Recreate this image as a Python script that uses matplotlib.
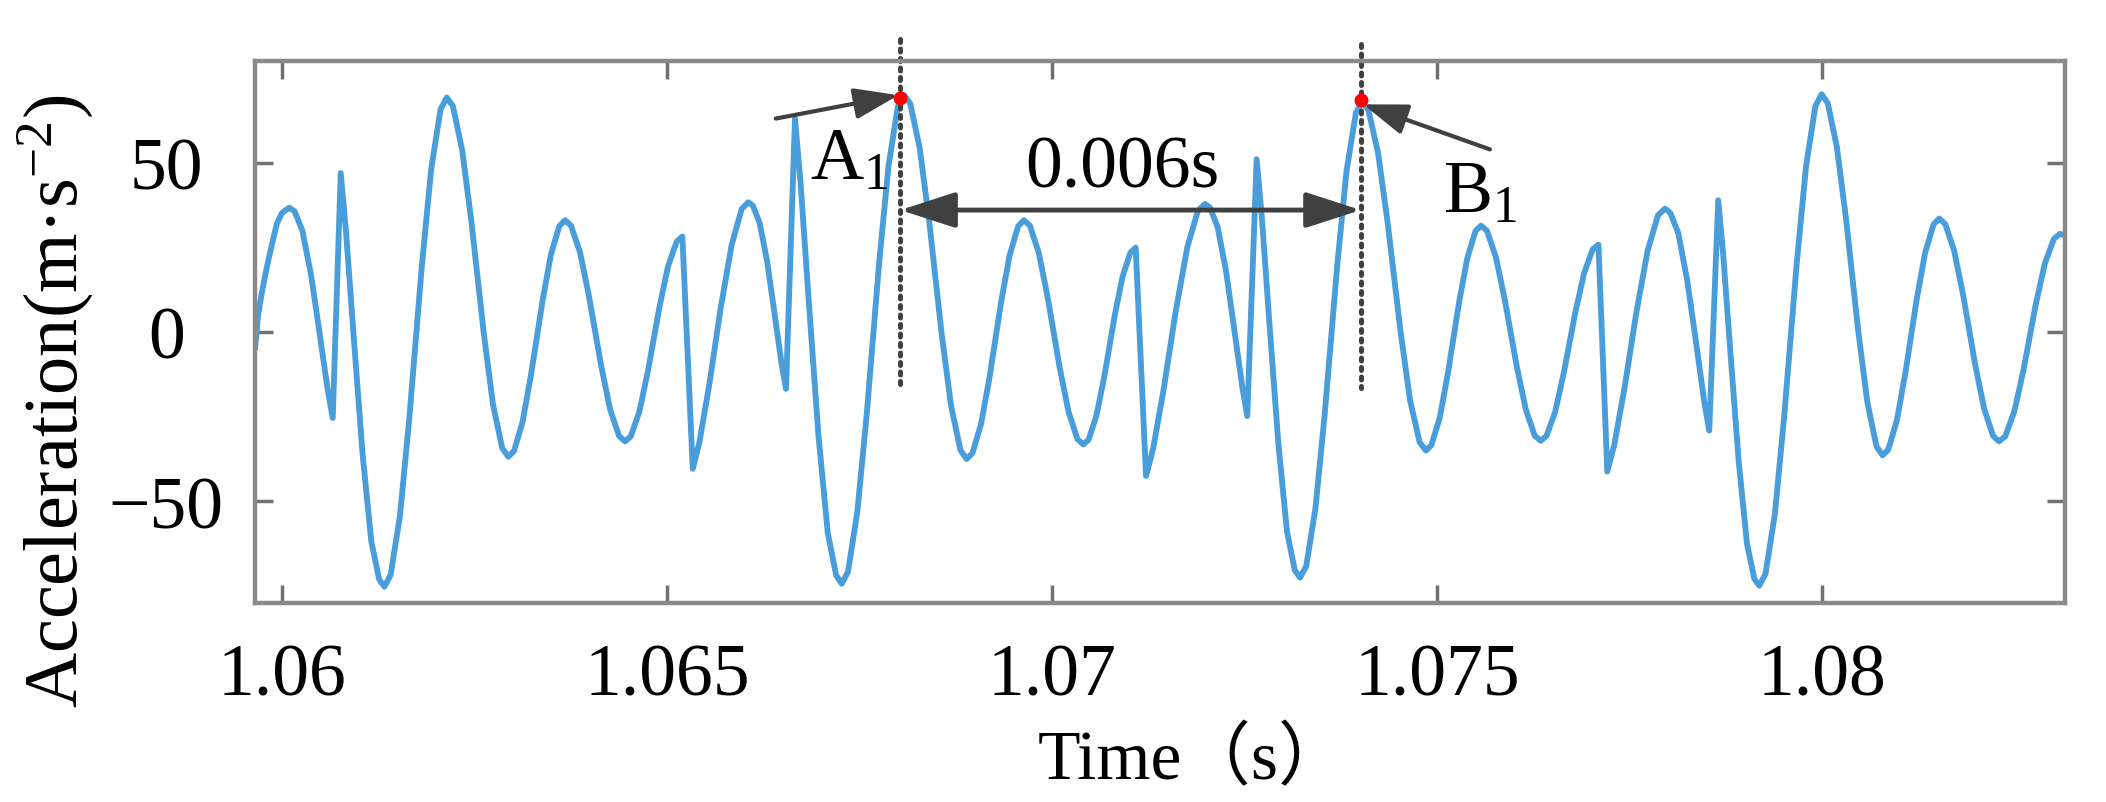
import matplotlib
matplotlib.use("Agg")
import matplotlib.pyplot as plt

plt.rcParams["font.family"] = ["Liberation Serif", "Noto Sans CJK SC"]
plt.rcParams["mathtext.fontset"] = "custom"
plt.rcParams["mathtext.rm"] = "Liberation Serif"
plt.rcParams["mathtext.it"] = "Liberation Serif"
plt.rcParams["mathtext.default"] = "regular"

# acceleration signal (time in s, acceleration in m/s^2)
time_s = [
    1.059649, 1.059688, 1.059740, 1.059801, 1.059870, 1.059931, 1.060000, 1.060095,
    1.060163, 1.060264, 1.060377, 1.060489, 1.060590, 1.060658,
    1.060762,
    1.060830, 1.060932, 1.061046, 1.061159, 1.061261, 1.061329,
    1.061410, 1.061532, 1.061653, 1.061815, 1.061937, 1.062058, 1.062139,
    1.062219, 1.062339, 1.062459, 1.062619, 1.062739, 1.062859, 1.062939,
    1.063013, 1.063123, 1.063233, 1.063381, 1.063491, 1.063601, 1.063675,
    1.063753, 1.063870, 1.063987, 1.064143, 1.064260, 1.064377, 1.064455,
    1.064529, 1.064641, 1.064753, 1.064901, 1.065013, 1.065125, 1.065199,
    1.065334,
    1.065421, 1.065551, 1.065695, 1.065839, 1.065969, 1.066056,
    1.066115, 1.066203, 1.066301, 1.066398, 1.066486, 1.066545,
    1.066662,
    1.066735, 1.066844, 1.066966, 1.067087, 1.067196, 1.067269,
    1.067350, 1.067471, 1.067593, 1.067754, 1.067876, 1.067997, 1.068078,
    1.068159, 1.068282, 1.068404, 1.068566, 1.068689, 1.068811, 1.068892,
    1.068966, 1.069078, 1.069190, 1.069338, 1.069450, 1.069562, 1.069636,
    1.069713, 1.069829, 1.069944, 1.070099, 1.070214, 1.070330, 1.070407,
    1.070475, 1.070577, 1.070679, 1.070815, 1.070917, 1.071019, 1.071087,
    1.071221,
    1.071313, 1.071451, 1.071604, 1.071757, 1.071895, 1.071987,
    1.072053, 1.072152, 1.072262, 1.072371, 1.072470, 1.072536,
    1.072658,
    1.072726, 1.072827, 1.072940, 1.073052, 1.073153, 1.073221,
    1.073302, 1.073422, 1.073543, 1.073704, 1.073825, 1.073946, 1.074026,
    1.074109, 1.074234, 1.074358, 1.074525, 1.074649, 1.074774, 1.074857,
    1.074928, 1.075036, 1.075143, 1.075285, 1.075393, 1.075500, 1.075571,
    1.075649, 1.075765, 1.075881, 1.076037, 1.076153, 1.076269, 1.076347,
    1.076422, 1.076535, 1.076647, 1.076797, 1.076910, 1.077022, 1.077097,
    1.077212,
    1.077302, 1.077437, 1.077587, 1.077736, 1.077871, 1.077961,
    1.078030, 1.078134, 1.078249, 1.078364, 1.078467, 1.078536,
    1.078653,
    1.078717, 1.078813, 1.078920, 1.079026, 1.079122, 1.079186,
    1.079267, 1.079389, 1.079510, 1.079672, 1.079794, 1.079915, 1.079996,
    1.080075, 1.080194, 1.080313, 1.080471, 1.080590, 1.080709, 1.080788,
    1.080862, 1.080972, 1.081082, 1.081229, 1.081339, 1.081450, 1.081523,
    1.081601, 1.081718, 1.081835, 1.081990, 1.082107, 1.082224, 1.082302,
    1.082381, 1.082499, 1.082618, 1.082775, 1.082894, 1.083012, 1.083091, 1.083156,
]
accel = [
    -5.0, 5.0, 12.0, 19.0, 26.0, 31.9, 35.2, 36.7,
    35.6, 29.9, 16.8, -0.6, -16.7, -25.4,
    46.9,
    29.8, -1.9, -36.1, -61.8, -73.0, -75.2,
    -71.7, -54.1, -25.4, 19.4, 48.1, 65.7, 69.2,
    66.7, 53.7, 32.6, -0.2, -21.3, -34.3, -36.8,
    -35.1, -26.6, -12.7, 8.9, 22.8, 31.3, 33.0,
    31.4, 23.5, 10.5, -9.8, -22.8, -30.7, -32.3,
    -30.8, -23.5, -11.4, 7.3, 19.4, 26.7, 28.2,
    -40.4,
    -32.5, -15.2, 6.8, 25.7, 36.3, 38.3,
    37.3, 32.2, 20.7, 5.2, -9.1, -16.8,
    63.0,
    43.8, 8.1, -30.4, -59.2, -71.8, -74.3,
    -70.8, -53.2, -24.5, 20.2, 48.9, 66.5, 70.0,
    67.4, 54.3, 32.9, -0.4, -21.8, -34.9, -37.5,
    -35.8, -27.2, -13.2, 8.7, 22.7, 31.3, 33.0,
    31.4, 23.3, 10.2, -10.4, -23.5, -31.6, -33.2,
    -31.8, -24.7, -13.2, 4.9, 16.4, 23.5, 24.9,
    -42.5,
    -34.5, -16.8, 5.7, 25.0, 35.8, 37.8,
    36.7, 30.9, 17.8, 0.2, -16.0, -24.8,
    51.0,
    33.7, 1.6, -33.0, -58.9, -70.3, -72.5,
    -69.1, -52.0, -24.0, 19.5, 47.5, 64.6, 68.0,
    65.5, 53.0, 32.5, 0.5, -20.0, -32.5, -35.0,
    -33.4, -25.3, -12.1, 8.5, 21.7, 29.8, 31.4,
    29.9, 22.1, 9.5, -10.2, -22.8, -30.6, -32.1,
    -30.7, -23.6, -12.1, 5.8, 17.3, 24.4, 25.8,
    -41.2,
    -33.4, -16.4, 5.4, 24.0, 34.5, 36.4,
    35.2, 29.2, 15.4, -2.9, -19.9, -29.1,
    38.9,
    23.0, -6.6, -38.5, -62.4, -72.9, -74.9,
    -71.4, -53.7, -24.8, 20.1, 49.0, 66.7, 70.2,
    67.6, 54.6, 33.4, 0.4, -20.8, -33.8, -36.4,
    -34.7, -26.2, -12.3, 9.4, 23.3, 31.8, 33.5,
    31.9, 23.9, 10.8, -9.6, -22.7, -30.7, -32.3,
    -30.8, -23.4, -11.2, 7.9, 20.1, 27.5, 29.0, 28.5,
]

# marked peaks A1 and B1
peak_t = [1.06803, 1.07401]
peak_a = [69.0, 68.6]
period_label = "0.006s"

x_ticks = [1.06, 1.065, 1.07, 1.075, 1.08]
x_ticklabels = ["1.06", "1.065", "1.07", "1.075", "1.08"]
y_ticks = [-50, 0, 50]

fig = plt.figure(figsize=(21.06, 8.03), dpi=100)
ax = fig.add_axes([0.1211, 0.2478, 0.8594, 0.675])

ax.plot(time_s, accel, color="#4a9ddb", lw=4.2,
        solid_joinstyle="round", solid_capstyle="round")

ax.set_xlim(1.059649, 1.083156)
ax.set_ylim(-80, 80)
ax.set_xticks(x_ticks)
ax.set_xticklabels(x_ticklabels)
ax.set_yticks(y_ticks)

for s in ax.spines.values():
    s.set_color("#8a8a8a")
    s.set_linewidth(3.2)
ax.tick_params(direction="in", length=13, width=2.5, color="#707070",
               top=True, right=True, labelsize=53)
ax.tick_params(axis="x", pad=29)
ax.tick_params(axis="y", pad=64)
for lab in ax.get_yticklabels():
    lab.set_horizontalalignment("center")

ax.set_xlabel("Time（s）", fontsize=50)
ax.xaxis.label.set_va("baseline")
ax.xaxis.set_label_coords(0.518, -0.323)
ax.set_ylabel("Acceleration(m·s$^{-2}$)", fontsize=55)
ax.yaxis.label.set_va("baseline")
ax.yaxis.set_label_coords(-0.0983, 0.374)

dark = "#404040"
# vertical dotted markers through the two peaks
ax.plot([peak_t[0], peak_t[0]], [86.6, -15.9], color=dark, lw=3.6,
        ls=(0, (0.6, 1.3)), dash_capstyle="round", clip_on=False)
ax.plot([peak_t[1], peak_t[1]], [85.1, -16.5], color=dark, lw=3.6,
        ls=(0, (0.6, 1.3)), dash_capstyle="round", clip_on=False)
ax.plot(peak_t, peak_a, "o", color="red", ms=9, zorder=5)

# double arrow for the period
ax.annotate("", xy=(peak_t[1], 36.0), xytext=(peak_t[0], 36.0),
            arrowprops=dict(arrowstyle="<|-|>,head_length=34,head_width=11",
                            mutation_scale=1, lw=3.5, color=dark,
                            shrinkA=0, shrinkB=0))
ax.text(1.070909, 43.0, period_label, fontsize=53, ha="center", va="baseline")

# pointer arrows to A1 and B1
ax.annotate("", xy=(1.068004, 69.9), xytext=(1.066412, 63.0),
            arrowprops=dict(arrowstyle="-|>,head_length=27,head_width=9.5",
                            mutation_scale=1, lw=3, color=dark,
                            shrinkA=0, shrinkB=0))
ax.annotate("", xy=(1.074043, 67.2), xytext=(1.075688, 53.9),
            arrowprops=dict(arrowstyle="-|>,head_length=27,head_width=9.5",
                            mutation_scale=1, lw=3, color=dark,
                            shrinkA=0, shrinkB=0))
ax.text(1.066857, 45.1, "A$_1$", fontsize=53, ha="left", va="baseline")
ax.text(1.075078, 35.4, "B$_1$", fontsize=53, ha="left", va="baseline")

fig.savefig("out.png", dpi=100)
